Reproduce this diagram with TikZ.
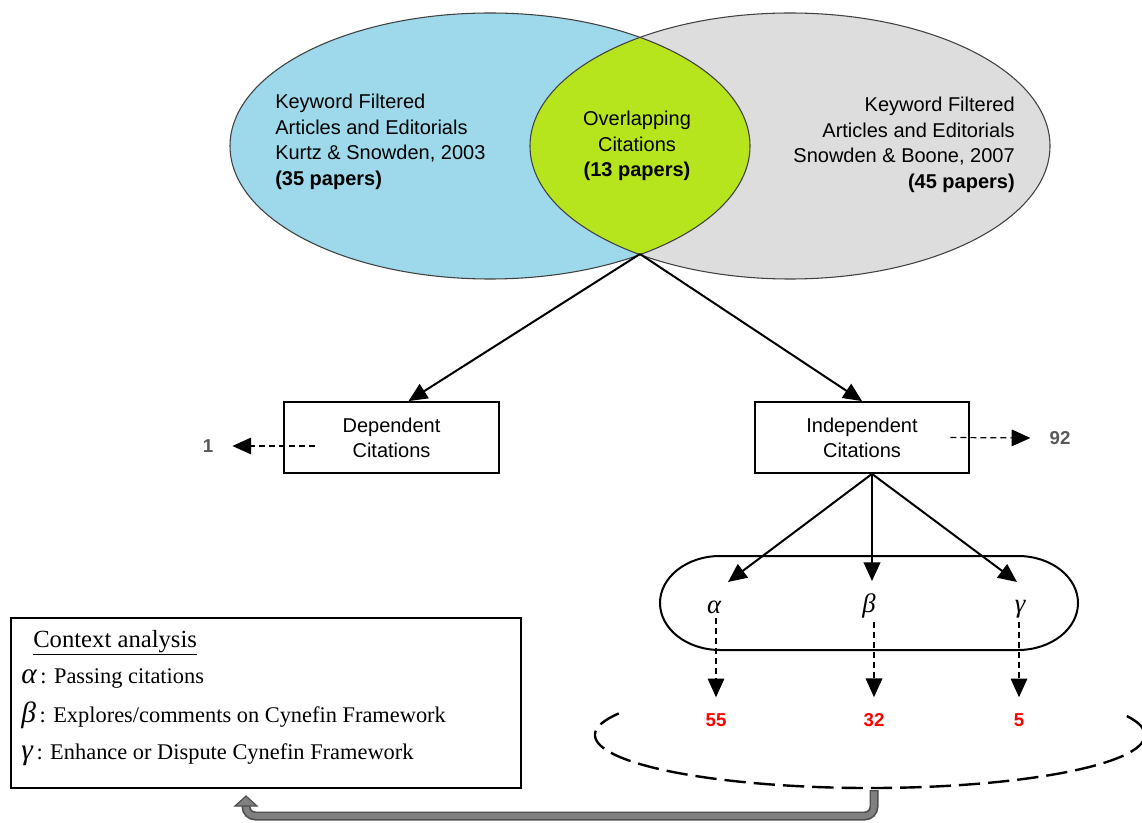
\documentclass[tikz,border=0pt]{standalone}
\usepackage{fontspec}
\setmainfont{Liberation Serif}
\newfontfamily\arialfont{Liberation Sans}
\newfontfamily\greekfont{Liberation Serif}
\usetikzlibrary{arrows.meta,calc}

\definecolor{vennblue}{RGB}{157,217,234}
\definecolor{venngray}{RGB}{221,221,221}
\definecolor{venngreen}{RGB}{183,229,29}
\definecolor{countred}{RGB}{255,0,0}
\definecolor{countgray}{RGB}{89,89,89}
\definecolor{pipefill}{RGB}{128,128,128}
\definecolor{pipeedge}{RGB}{80,80,80}

\newcommand{\legendgreek}[1]{{\greekfont\itshape\fontsize{22}{22}\selectfont #1}}

\begin{document}
\begin{tikzpicture}[x=0.75pt,y=0.75pt,
  venntext/.style={font=\arialfont\fontsize{15}{19.2}\selectfont, inner sep=0pt},
  citebox/.style={draw, line width=1.6pt, minimum width=161pt, minimum height=53pt,
    align=center, font=\arialfont\fontsize{15}{18.8}\selectfont},
  tipstyle/.style={-{Triangle[length=14pt,width=12.5pt]}},
  mainarrow/.style={tipstyle, line width=1.5pt},
  dasharrow/.style={tipstyle, line width=0.9pt, dash pattern=on 4.5pt off 3pt},
  count/.style={font=\arialfont\bfseries\fontsize{14}{16}\selectfont, inner sep=0pt},
  greek/.style={font=\greekfont\itshape\fontsize{20}{22}\selectfont, inner sep=0pt},
  legend/.style={anchor=west, inner sep=0pt, font=\fontsize{16.8}{18}\selectfont},
  ]
\useasboundingbox (0,0) rectangle (1142,-823);
\fill[white] (0,0) rectangle (1142,-823);

% Venn diagram
\fill[vennblue] (490,-146) ellipse [x radius=195pt, y radius=99.75pt];
\fill[venngray] (790,-146) ellipse [x radius=195pt, y radius=99.75pt];
\begin{scope}
  \clip (490,-146) ellipse [x radius=195pt, y radius=99.75pt];
  \fill[venngreen] (790,-146) ellipse [x radius=195pt, y radius=99.75pt];
\end{scope}
\draw[black!75, line width=0.8pt] (490,-146) ellipse [x radius=195pt, y radius=99.75pt];
\draw[black!75, line width=0.8pt] (790,-146) ellipse [x radius=195pt, y radius=99.75pt];

\node[venntext, anchor=west, align=left] (kurtz) at (275,-142)
  {Keyword Filtered\\Articles and Editorials\\Kurtz \& Snowden, 2003\\\textbf{(35 papers)}};
\node[venntext, anchor=east, align=right] (boone) at (1015,-145)
  {Keyword Filtered\\Articles and Editorials\\Snowden \& Boone, 2007\\\textbf{(45 papers)}};
\node[venntext, align=center] (overlap) at (637,-146)
  {Overlapping\\Citations\\\textbf{(13 papers)}};

\coordinate (lensbot) at (640,-254);

% citation split
\node[citebox] (dep) at (391.5,-437.5) {Dependent\\Citations};
\node[citebox] (ind) at (862,-437.5) {Independent\\Citations};
\draw[mainarrow] (lensbot) -- ($(dep.north)+(17,0)$);
\draw[mainarrow] (lensbot) -- (ind.north);

\node[count, text=countgray] (one) at (208,-446) {1};
\node[count, text=countgray] (n92) at (1060,-438) {92};
\draw[dasharrow] ($(dep.west)+(32,-8.5)$) -- ($(one.east)+(19,0)$);
\draw[dasharrow] ($(ind.east)+(-20,0)$) -- ($(n92.west)+(-19,0)$);

% context categories
\draw[line width=1.5pt] (720,-556) -- (1018,-556)
  arc[start angle=90, end angle=-90, x radius=45pt, y radius=35.25pt]
  -- (720,-650)
  arc[start angle=270, end angle=90, x radius=45pt, y radius=35.25pt] -- cycle;
\node[greek] (al) at (714,-607) {α};
\node[greek] (be) at (869,-606) {β};
\node[greek] (ga) at (1020,-609) {γ};

\coordinate (apex) at ($(ind.south)+(10,0)$);
\coordinate (ta) at (728,-582);
\coordinate (tb) at (872,-581);
\coordinate (tc) at (1017,-582);
\draw[mainarrow] (apex) -- (ta);
\draw[mainarrow] (apex) -- (tb);
\draw[mainarrow] (apex) -- (tc);

\node[count, text=countred] (c55) at (716,-720) {55};
\node[count, text=countred] (c32) at (874,-720) {32};
\node[count, text=countred] (c5) at (1019,-720) {5};
\draw[dasharrow] ([yshift=-3pt]al.south -| c55.north) -- ([yshift=12pt]c55.north);
\draw[dasharrow] ([yshift=-3pt]be.south -| c32.north) -- ([yshift=12pt]c32.north);
\draw[dasharrow] ([yshift=-3pt]ga.south -| c5.north) -- ([yshift=12pt]c5.north);

% open dashed ellipse around the counts
\draw[line width=1.8pt, dash pattern=on 16pt off 6pt]
  (870,-735) ++(156:275 and 53)
  arc[start angle=156, end angle=384, x radius=206.25pt, y radius=39.75pt];
\coordinate (ellbot) at (874,-790);

% legend box
\node[draw, line width=0.9pt, minimum width=382.5pt, minimum height=127.5pt] (ctx) at (266,-703) {};
\node[legend, font=\fontsize{18.5}{20}\selectfont] (ctitle) at (33,-643) {\underline{Context analysis}};
\node[legend] (la) at (21,-678) {\legendgreek{α}\,: Passing citations};
\node[legend] (lb) at (21,-715) {\legendgreek{β}\,: Explores/comments on Cynefin Framework};
\node[legend] (lg) at (21,-755) {\legendgreek{γ}\,: Enhance or Dispute Cynefin Framework};

% return pipe to the legend
\coordinate (pipeend) at (246,-806);
\draw[pipeedge, line width=6.75pt, rounded corners=7pt] (ellbot) |- (246,-816) -- (pipeend);
\draw[pipefill, line width=4.2pt, rounded corners=7pt] ([yshift=-1pt]ellbot) |- (246,-816) -- ([yshift=-1pt]pipeend);
\filldraw[fill=pipefill, draw=pipeedge, line width=0.9pt]
  ($(pipeend)+(-11,0)$) -- ($(pipeend)+(11,0)$) -- ($(pipeend)+(0,10)$) -- cycle;
\end{tikzpicture}
\end{document}
